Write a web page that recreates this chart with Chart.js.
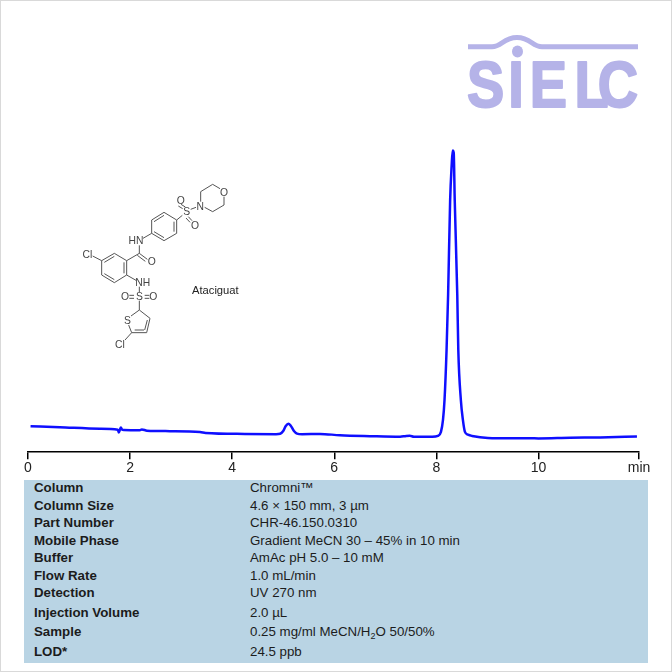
<!DOCTYPE html>
<html><head><meta charset="utf-8">
<script src="https://cdn.jsdelivr.net/npm/chart.js@4"></script>
<style>
html,body{margin:0;padding:0;background:#fff}
#page{position:relative;width:672px;height:672px;overflow:hidden;font-family:"Liberation Sans",Arial,sans-serif;background:#fff}
#frame{position:absolute;inset:0;border:1px solid #d9d9d9;pointer-events:none;z-index:5}
canvas{position:absolute;left:0;top:0}
svg{position:absolute;overflow:visible}
#tbl{position:absolute;left:24px;top:480px;width:624px;height:183px;background:#b9d4e4;color:#1c1c1c;font-size:13.3px}
#tbl div{position:absolute;white-space:nowrap;line-height:16px}
#tbl .k{left:10px;font-weight:bold}
#tbl .v{left:226px}
#tbl sub{font-size:9px;line-height:0;vertical-align:-3px}
</style></head>
<body><div id="page">
<canvas id="c" width="672" height="478"></canvas>

<svg id="logo" width="672" height="130" style="left:0;top:0;filter:blur(.5px)">
  <g fill="#b5b3e8">
    <path d="M468 46.7H492C502 46.7 503 37.5 517 37.5C531 37.5 532 46.7 542 46.7H638" fill="none" stroke="#b5b3e8" stroke-width="5"/>
    <ellipse cx="517.5" cy="51.5" rx="5.5" ry="6"/>
    <text y="107" font-family="Liberation Sans" font-weight="bold" font-size="65" stroke="#b5b3e8" stroke-width="2" stroke-linejoin="round" transform="scale(.86 1)" x="543 591 616 668 695">SIELC</text>
  </g>
</svg>

<svg id="mol" width="200" height="190" viewBox="0 0 600 570" style="left:60px;top:170px;filter:blur(.3px)">
  <g stroke="#555" stroke-width="3" fill="none">
    <path d="M422 95V65L458 43L480 56M492 80V105L458 125L434 112"/>
    <path d="M392 118L408 112M350 150L367 136M355 108L368 116M363 103L376 111M385 140L396 152M378 144L390 157"/>
    <path d="M350 150V190L312 212L275 190V150L312 127Z"/>
    <path d="M342 155V185M312 203L282 185M282 155L312 136"/>
    <path d="M275 190L249 205M238 226V250M238 250L262 268M232 256L256 274M238 250L200 272"/>
    <path d="M200 272V315L163 338L125 315V272L163 250Z"/>
    <path d="M192 277V310M163 329L133 311M133 277L163 259"/>
    <path d="M125 272L98 258M200 315L228 331M238 350V366"/>
    <path d="M222 376H208M222 385H208M254 376H268M254 385H268M238 392V420"/>
    <path d="M238 420L270 445L260 488H215L206 465M213 438L238 420M262 450L254 480M224 480H252"/>
    <path d="M215 488L195 510"/>
  </g>
  <g fill="#444" font-family="Liberation Sans" font-size="31" text-anchor="middle">
    <text x="492" y="77">O</text><text x="421" y="119">N</text><text x="380" y="136">S</text>
    <text x="362" y="103">O</text><text x="405" y="176">O</text><text x="228" y="223">HN</text>
    <text x="275" y="286">O</text><text x="82" y="265">Cl</text><text x="248" y="349">NH</text>
    <text x="238" y="391">S</text><text x="195" y="391">O</text><text x="280" y="391">O</text>
    <text x="202" y="461">S</text><text x="180" y="533">Cl</text>
  </g>
</svg>
<div style="position:absolute;left:192px;top:284px;font-size:11.2px;line-height:13px;color:#222">Ataciguat</div>

<div id="tbl"></div>
<div id="frame"></div>
</div>
<script>
// Retention time (min)
const timeMin = [0.05,0.62,1.41,1.76,1.78,1.80,1.82,1.84,1.88,2.19,2.23,2.33,2.78,3.37,3.48,4.25,4.86,4.94,5.00,5.05,5.10,5.15,5.21,5.27,5.37,5.72,6.11,6.70,7.29,7.41,7.48,7.56,7.92,8.03,8.09,8.13,8.16,8.20,8.23,8.27,8.30,8.32,8.34,8.36,8.41,8.43,8.48,8.52,8.56,8.62,8.70,9.01,9.45,9.84,10.00,10.62,11.21,11.93];
// Detector signal (arbitrary units)
const signal = [27,26,24.5,23.5,20.8,23.5,25.8,23.8,23.3,23.1,23.8,22.6,22.1,21.3,20.3,19.3,19.1,19.5,22.3,27.3,29.6,27.3,22.3,19.6,19,19.3,18,17.1,16.5,17.3,17.4,16.5,16.5,17.3,21.3,33.3,53.3,103.3,158.3,253.3,288.3,303.3,301,253.3,158.3,103.3,53.3,33.3,21.3,18.5,17.3,15.3,15,15,14.8,15.5,15.8,16.8];
const tickValues = [0,2,4,6,8,10,11.97];
const tickLabels = ["0","2","4","6","8","10","min"];
const paramNames = ["Column","Column Size","Part Number","Mobile Phase","Buffer","Flow Rate","Detection","Injection Volume","Sample","LOD*"];
const paramValues = ["Chromni™","4.6 × 150 mm, 3 µm","CHR-46.150.0310","Gradient MeCN 30 – 45% in 10 min","AmAc pH 5.0 – 10 mM","1.0 mL/min","UV 270 nm","2.0 µL","0.25 mg/ml MeCN/H<sub>2</sub>O 50/50%","24.5 ppb"];
const rowCentres = [8,26,43,61,78,96,113,133,152,172];

const tbl = document.getElementById('tbl');
paramNames.forEach((n,i)=>{
  const k=document.createElement('div');k.className='k';k.textContent=n;k.style.top=(rowCentres[i]-8)+'px';tbl.appendChild(k);
  const v=document.createElement('div');v.className='v';v.innerHTML=paramValues[i];v.style.top=(rowCentres[i]-8)+'px';tbl.appendChild(v);
});

new Chart(document.getElementById('c'),{
  type:'line',
  data:{datasets:[{data:timeMin.map((t,i)=>({x:t,y:signal[i]})),borderColor:'#0f0fff',borderWidth:2.5,pointRadius:0,cubicInterpolationMode:'monotone',fill:false}]},
  options:{
    responsive:false,animation:false,devicePixelRatio:1,
    layout:{padding:{left:28,right:33,top:4,bottom:0}},
    plugins:{legend:{display:false},tooltip:{enabled:false}},
    scales:{
      x:{type:'linear',min:0,max:11.97,
        afterBuildTicks:s=>{s.ticks=tickValues.map(v=>({value:v}));},
        border:{color:'#000',width:1.5},
        grid:{drawOnChartArea:false,color:'#000',lineWidth:1.5,tickLength:7},
        ticks:{autoSkip:false,maxRotation:0,padding:1,color:'#222',font:{family:'Liberation Sans',size:14},
          callback:(v,i)=>tickLabels[i]}},
      y:{display:false,min:1,max:450}
    }
  }
});
</script>
</body></html>
